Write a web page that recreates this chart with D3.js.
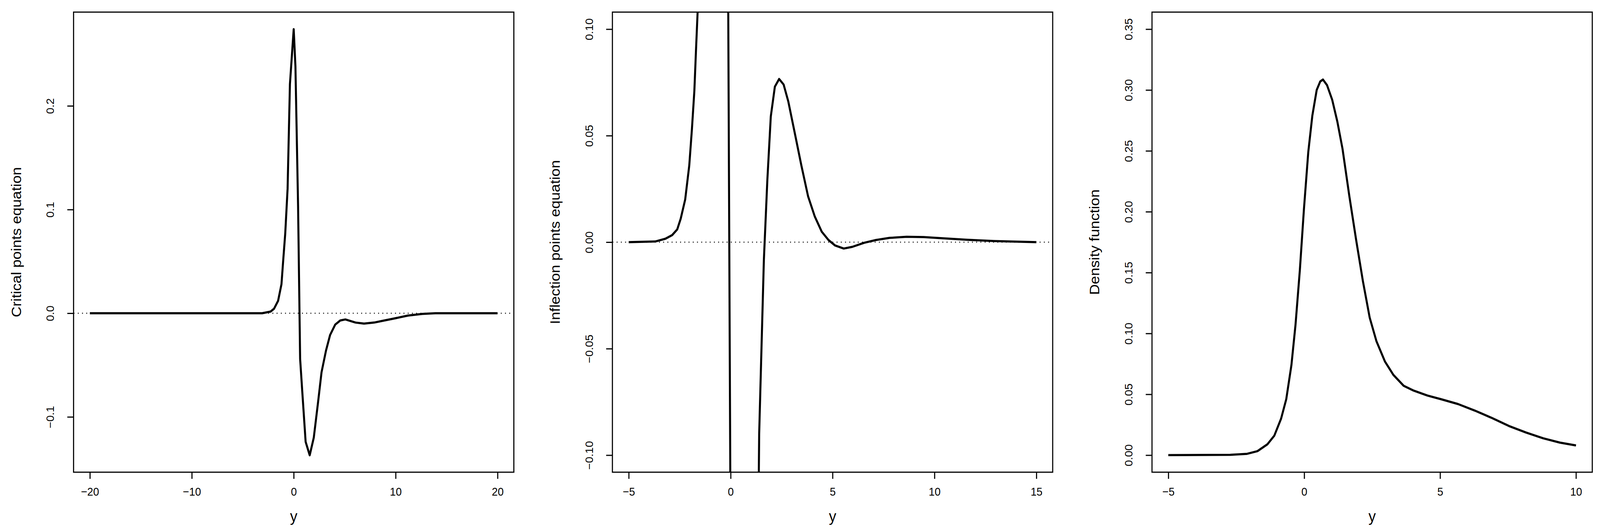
<!DOCTYPE html>
<html>
<head>
<meta charset="utf-8">
<script src="https://cdnjs.cloudflare.com/ajax/libs/d3/7.8.5/d3.min.js"></script>
<style>
  html, body { margin: 0; padding: 0; background: #fff; overflow: hidden; }
  #chart { display: block; width: 100vw; height: 100vh; }
  text { font-family: "Liberation Sans", Arial, sans-serif; fill: #000; }
</style>
</head>
<body>
<svg id="chart" viewBox="0 0 4350 1357" preserveAspectRatio="none"></svg>
<script>

// Critical points equation
let crit_x = [-20, -10, -3.1, -2.27, -1.93, -1.53, -1.2, -1.03, -0.83, -0.6, -0.37, 0, 0.17, 0.43, 0.63, 0.83, 1.17, 1.57, 1.97, 2.4, 2.73, 3.17, 3.57, 4.07, 4.57, 5.07, 6.07, 6.9, 7.9, 8.9, 9.9, 11.2, 12.6, 13.9, 20];
let crit_y = [0, 0, 0, 0.0016, 0.0043, 0.012, 0.028, 0.051, 0.077, 0.12, 0.221, 0.274, 0.238, 0.103, -0.044, -0.074, -0.124, -0.137, -0.12, -0.085, -0.057, -0.036, -0.021, -0.011, -0.007, -0.006, -0.009, -0.010, -0.009, -0.007, -0.005, -0.0023, -0.0007, 0, 0];

// Inflection points equation (left branch, then right of the pole)
let infl_x = [-5, -3.7, -3.2, -2.87, -2.62, -2.45, -2.23, -2.03, -1.9, -1.78, -1.7, -1.62, -1.5, -1.2, -0.6, -0.2, 0, 0.2, 0.8, 1.2, 1.4, 1.63, 1.8, 1.97, 2.17, 2.38, 2.6, 2.83, 3.13, 3.47, 3.8, 4.13, 4.47, 4.8, 5.13, 5.55, 5.97, 6.55, 7.13, 7.8, 8.63, 9.47, 10.3, 11.63, 12.97, 15];
let infl_y = [0, 0.0003, 0.0016, 0.0033, 0.006, 0.011, 0.02, 0.036, 0.053, 0.071, 0.09, 0.108, 0.15, 0.4, 0.9, 0.287, -0.145, -0.9, -0.6, -0.3, -0.09, -0.0085, 0.029, 0.059, 0.073, 0.0766, 0.074, 0.066, 0.052, 0.036, 0.0215, 0.012, 0.0049, 0.001, -0.0016, -0.003, -0.0022, -0.0003, 0.001, 0.002, 0.0025, 0.0024, 0.0019, 0.0011, 0.0005, 0];

// Density function
let dens_x = [-5, -2.72, -2.1, -1.72, -1.35, -1.1, -0.85, -0.66, -0.47, -0.32, -0.16, -0.01, 0.15, 0.3, 0.46, 0.59, 0.69, 0.84, 1.03, 1.22, 1.41, 1.66, 1.91, 2.16, 2.41, 2.66, 2.97, 3.28, 3.66, 4.03, 4.53, 5.03, 5.66, 6.28, 6.91, 7.53, 8.16, 8.79, 9.41, 10];
let dens_y = [0, 0.0003, 0.0011, 0.0033, 0.009, 0.016, 0.03, 0.046, 0.074, 0.107, 0.152, 0.202, 0.249, 0.279, 0.300, 0.307, 0.3086, 0.304, 0.292, 0.274, 0.2517, 0.213, 0.177, 0.143, 0.113, 0.0935, 0.077, 0.066, 0.057, 0.053, 0.049, 0.046, 0.042, 0.0366, 0.0305, 0.024, 0.0186, 0.0139, 0.0103, 0.008];

// tick labels
let crit_xticks = [-20, -10, 0, 10, 20];
let crit_yticks = [-0.1, 0.0, 0.1, 0.2];
let infl_xticks = [-5, 0, 5, 10, 15];
let infl_yticks = [-0.10, -0.05, 0.00, 0.05, 0.10];
let dens_xticks = [-5, 0, 5, 10];
let dens_yticks = [0.00, 0.05, 0.10, 0.15, 0.20, 0.25, 0.30, 0.35];

let chart = d3.select("#chart");
let top_y = 31, bottom_y = 1209;

function extend(a, b){ let d = (b - a) * 0.04; return [a - d, b + d]; }

function draw_panel(id, left, right, xs, ys, xdom, ydom, xticks, yticks, yfmt, ylab, zero_line){

	let x = d3.scaleLinear().domain(extend(xdom[0], xdom[1])).range([left, right]);
	let y = d3.scaleLinear().domain(extend(ydom[0], ydom[1])).range([bottom_y, top_y]);

	chart.append("clipPath").attr("id", id)
		.append("rect")
			.attr("x", left).attr("y", top_y)
			.attr("width", right - left).attr("height", bottom_y - top_y);

	if (zero_line) {
		chart.append("line")
			.attr("x1", left).attr("x2", right)
			.attr("y1", y(0)).attr("y2", y(0))
			.attr("stroke", "#000").attr("stroke-width", 2.5)
			.attr("stroke-dasharray", "2.5,9");
	}

	let line = d3.line()
		.x(function(d){ return x(d[0]); })
		.y(function(d){ return y(d[1]); });

	chart.append("path")
		.datum(d3.zip(xs, ys))
		.attr("clip-path", "url(#" + id + ")")
		.attr("d", line)
		.attr("fill", "none")
		.attr("stroke", "#000")
		.attr("stroke-width", 5.5)
		.attr("stroke-linejoin", "round");

	// x axis
	let gx = chart.append("g")
		.attr("transform", "translate(0," + bottom_y + ")")
		.call(d3.axisBottom(x).tickValues(xticks).tickSize(17).tickPadding(22)
			.tickFormat(function(d){ return d < 0 ? "\u2212" + (-d) : d; }));
	gx.select(".domain").remove();
	gx.selectAll("line").attr("stroke-width", 3);
	gx.selectAll("text").attr("font-size", 29).attr("font-family", "Liberation Sans, Arial, sans-serif");

	// y axis
	let gy = chart.append("g")
		.attr("transform", "translate(" + left + ",0)")
		.call(d3.axisLeft(y).tickValues(yticks).tickSize(17).tickFormat(yfmt));
	gy.select(".domain").remove();
	gy.selectAll("line").attr("stroke-width", 3);
	gy.selectAll("text")
		.attr("x", null).attr("dy", null)
		.attr("text-anchor", "middle")
		.attr("font-size", 29)
		.attr("font-family", "Liberation Sans, Arial, sans-serif")
		.attr("transform", "translate(-53,0) rotate(-90)");

	// box
	chart.append("rect")
		.attr("x", left).attr("y", top_y)
		.attr("width", right - left).attr("height", bottom_y - top_y)
		.attr("fill", "none").attr("stroke", "#000").attr("stroke-width", 3);

	// axis titles
	chart.append("text")
		.attr("x", (left + right) / 2).attr("y", 1336)
		.attr("text-anchor", "middle")
		.attr("font-size", 40)
		.text("y");

	chart.append("text")
		.attr("transform", "translate(" + (left - 143) + "," + ((top_y + bottom_y) / 2) + ") rotate(-90)")
		.attr("text-anchor", "middle")
		.attr("font-size", 38)
		.text(ylab);
}

function fmt(n){
	return function(d){ let s = d3.format("." + n + "f")(Math.abs(d)); return d < 0 ? "\u2212" + s : s; };
}

draw_panel("c1", 200, 1397, crit_x, crit_y, [-20, 20], [-0.1369, 0.2740],
	crit_xticks, crit_yticks, fmt(1), "Critical points equation", true);
draw_panel("c2", 1665, 2862, infl_x, infl_y, [-5, 15], [-0.1, 0.1],
	infl_xticks, infl_yticks, fmt(2), "Inflection points equation", true);
draw_panel("c3", 3132, 4329, dens_x, dens_y, [-5, 10], [0, 0.35],
	dens_xticks, dens_yticks, fmt(2), "Density function", false);

</script>
</body>
</html>
